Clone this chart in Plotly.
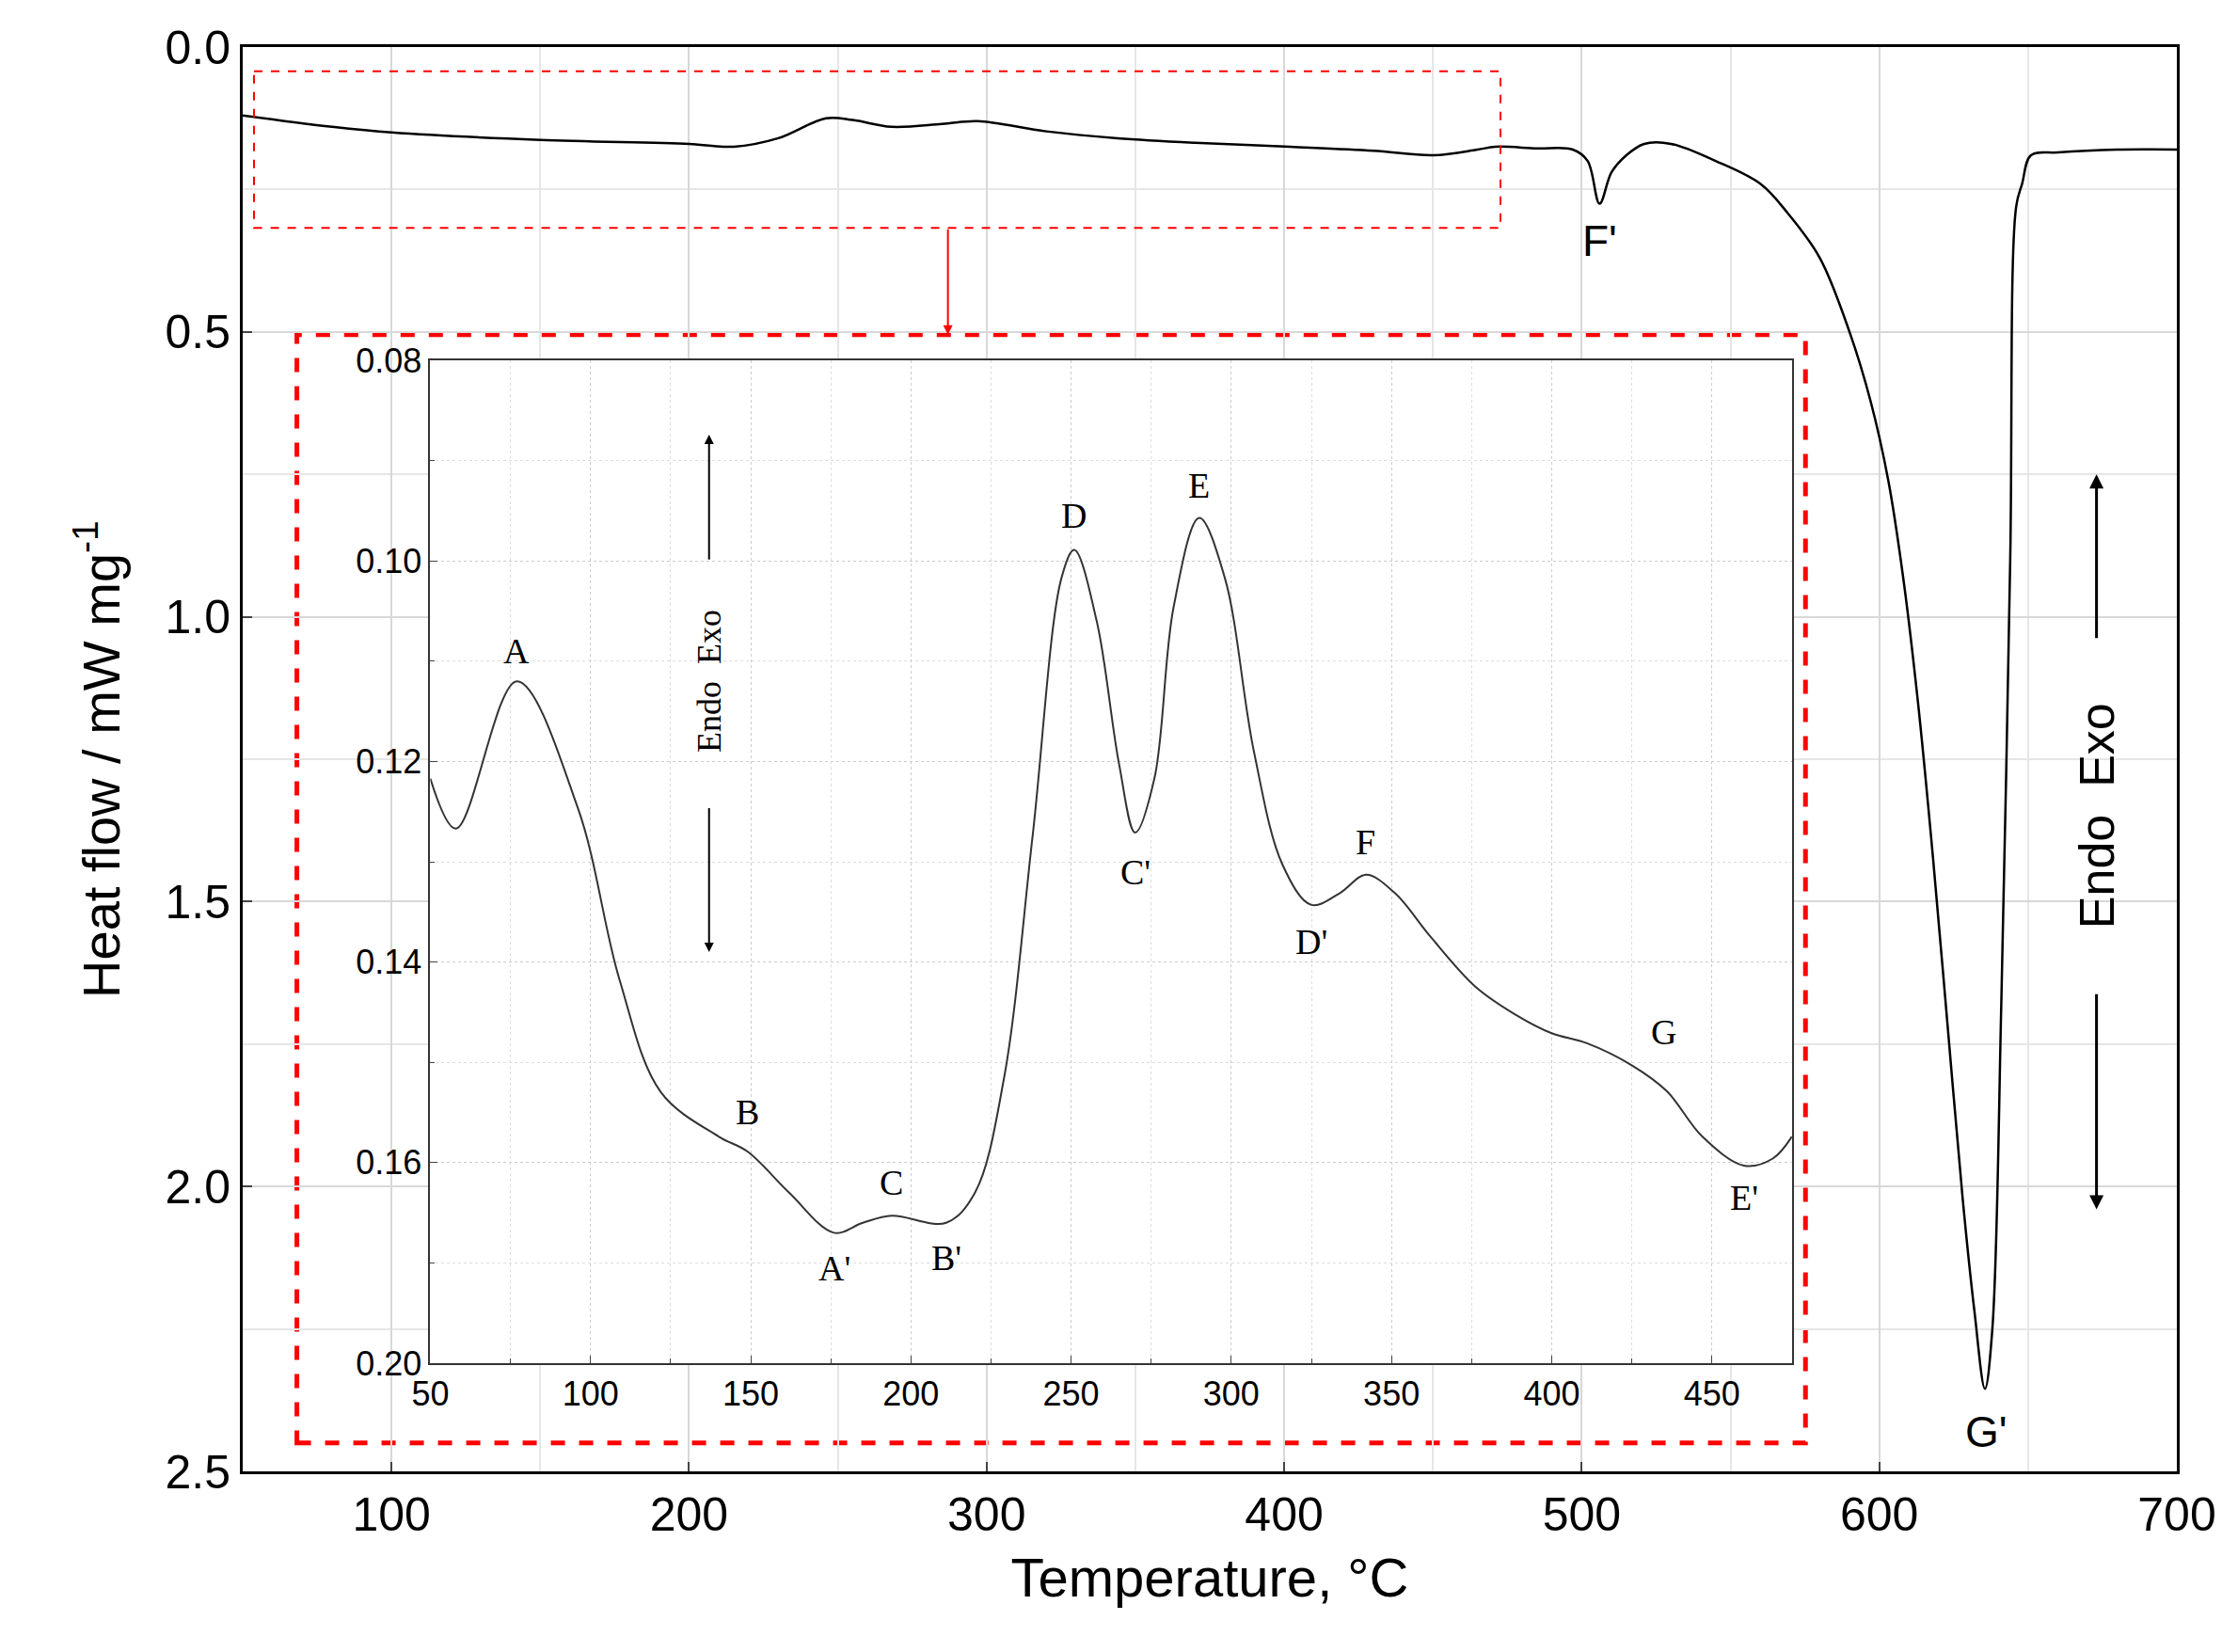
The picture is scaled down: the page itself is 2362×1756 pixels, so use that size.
import plotly.graph_objects as go

# main DSC curve
temp_main = [50, 80, 100, 150, 200, 215, 230, 246, 255, 268, 285, 297, 320, 344, 370, 402, 430, 450, 465, 471, 485,
             497, 502, 506, 510, 515, 521, 530, 545, 560, 569, 580, 590, 597, 603, 608, 613, 618, 623, 628, 632,
             635.5, 638, 641, 644, 646, 648, 651, 660, 680, 700]
flow_main = [0.12, 0.14, 0.15, 0.163, 0.17, 0.175, 0.16, 0.125, 0.128, 0.14, 0.135, 0.13, 0.148, 0.16, 0.168, 0.175,
             0.182, 0.19, 0.18, 0.175, 0.178, 0.18, 0.2, 0.275, 0.22, 0.19, 0.17, 0.17, 0.2, 0.24, 0.29, 0.37, 0.5,
             0.62, 0.76, 0.93, 1.15, 1.42, 1.72, 2.02, 2.22, 2.355, 2.25, 1.68, 0.9, 0.28, 0.24, 0.19, 0.185, 0.18,
             0.18]

# inset curve
temp_in = [50, 58, 77, 96, 109, 122, 140, 149, 162, 176, 185, 194, 211, 220, 229, 238, 247, 251, 258, 265, 270, 276,
           282, 290, 298, 307, 316, 325, 334, 342, 351, 362, 376, 389, 400, 411, 425, 436, 447, 460, 469, 475]
flow_in = [0.1217, 0.1267, 0.112, 0.1246, 0.1417, 0.153, 0.1574, 0.1589, 0.163, 0.167, 0.166, 0.1653, 0.166, 0.163,
           0.1517, 0.1274, 0.1017, 0.0989, 0.106, 0.1203, 0.1271, 0.1217, 0.1046, 0.0957, 0.1017, 0.1189, 0.1303,
           0.1343, 0.1331, 0.1313, 0.1331, 0.1374, 0.1424, 0.1453, 0.1471, 0.1481, 0.1503, 0.1529, 0.1574, 0.1603,
           0.1596, 0.1574]

inset_labels = ["A", "B", "C", "D", "E", "F", "G", "A'", "B'", "C'", "D'", "E'"]
inset_lx = [77, 149, 194, 251, 290, 342, 435, 176, 211, 270, 325, 460]
inset_ly = [0.109, 0.155, 0.162, 0.0955, 0.0925, 0.128, 0.147, 0.1705, 0.1695, 0.131, 0.138, 0.1635]

fig = go.Figure()
fig.add_trace(go.Scatter(x=temp_main, y=flow_main, mode="lines", line=dict(color="black", width=2.5, shape="spline"),
                         showlegend=False))
fig.add_trace(go.Scatter(x=temp_in, y=flow_in, mode="lines", line=dict(color="#333", width=2, shape="spline"),
                         xaxis="x2", yaxis="y2", showlegend=False))

ax_main = dict(showline=True, linecolor="black", linewidth=3, mirror=True, ticks="inside", ticklen=10,
               tickwidth=2, showgrid=True, gridcolor="#d8d8d8", gridwidth=1.5, zeroline=False,
               tickfont=dict(family="Liberation Sans", size=50, color="black"))
fig.update_layout(
    width=2362, height=1756, plot_bgcolor="white", paper_bgcolor="white",
    margin=dict(l=250, r=56, t=42, b=200),
    xaxis=dict(ax_main, range=[50, 700], dtick=100, minor=dict(dtick=50, showgrid=True, gridcolor="#e6e6e6"),
               title=dict(text="Temperature, °C", standoff=20,
                          font=dict(family="Liberation Sans", size=58, color="black"))),
    yaxis=dict(ax_main, range=[2.5, 0], dtick=0.5, tickformat=".1f",
               minor=dict(dtick=0.25, showgrid=True, gridcolor="#e6e6e6"),
               title=dict(text="Heat flow / mW mg<sup>-1</sup>", standoff=30,
                          font=dict(family="Liberation Sans", size=56, color="black"))),
    xaxis2=dict(domain=[0.097, 0.801], anchor="y2", range=[50, 475], dtick=50, showline=True, linecolor="#333",
                linewidth=2, mirror=True, ticks="inside", ticklen=8, showgrid=True, gridcolor="#cccccc",
                griddash="dot", zeroline=False, minor=dict(dtick=25, ticks="inside", ticklen=5, showgrid=True,
                gridcolor="#dddddd", griddash="dot"),
                tickfont=dict(family="Liberation Sans", size=36, color="black")),
    yaxis2=dict(domain=[0.076, 0.78], anchor="x2", range=[0.18, 0.08], showline=True, linecolor="#333",
                linewidth=2, mirror=True, ticks="inside", ticklen=8,
                tickvals=[0.08, 0.10, 0.12, 0.14, 0.16, 0.18], ticktext=["0.08", "0.10", "0.12", "0.14", "0.16", "0.20"],
                showgrid=True, gridcolor="#cccccc", griddash="dot", zeroline=False,
                minor=dict(dtick=0.01, ticks="inside", ticklen=5, showgrid=True, gridcolor="#dddddd", griddash="dot"),
                tickfont=dict(family="Liberation Sans", size=36, color="black")),
)

# inset box (white background, red dashed border) and upper selection box
fig.add_shape(type="rect", xref="paper", yref="paper", x0=0.028, x1=0.808, y0=0.02, y1=0.798,
              fillcolor="white", line=dict(color="red", width=5, dash="dash"), layer="below")
fig.add_shape(type="rect", x0=53.8, x1=472.7, y0=0.0425, y1=0.3175, line=dict(color="red", width=2, dash="dash"))
fig.add_annotation(x=287, y=0.505, ax=287, ay=0.3175, axref="x", ayref="y", text="", showarrow=True,
                   arrowhead=2, arrowcolor="red", arrowwidth=2)

txt = dict(family="Liberation Sans", size=46, color="black")
fig.add_annotation(x=506, y=0.34, text="F'", showarrow=False, font=txt)
fig.add_annotation(x=636, y=2.43, text="G'", showarrow=False, font=txt)
# Endo / Exo main
fig.add_annotation(x=673, y=0.75, ax=673, ay=1.04, axref="x", ayref="y", text="", arrowhead=2, arrowwidth=3, arrowcolor="black")
fig.add_annotation(x=673, y=2.04, ax=673, ay=1.66, axref="x", ayref="y", text="", arrowhead=2, arrowwidth=3, arrowcolor="black")
fig.add_annotation(x=673, y=1.35, text="Endo  Exo", textangle=-90, showarrow=False,
                   font=dict(family="Liberation Sans", size=52, color="black"))

# inset labels
ser = dict(family="Liberation Serif", size=38, color="black")
for lab, lx, ly in zip(inset_labels, inset_lx, inset_ly):
    fig.add_annotation(x=lx, y=ly, xref="x2", yref="y2", text=lab, showarrow=False, font=ser)
fig.add_annotation(x=137, y=0.0874, ax=137, ay=0.1, xref="x2", yref="y2", axref="x2", ayref="y2", text="",
                   arrowhead=2, arrowwidth=2, arrowcolor="black")
fig.add_annotation(x=137, y=0.139, ax=137, ay=0.1245, xref="x2", yref="y2", axref="x2", ayref="y2", text="",
                   arrowhead=2, arrowwidth=2, arrowcolor="black")
fig.add_annotation(x=137, y=0.112, xref="x2", yref="y2", text="Endo  Exo", textangle=-90, showarrow=False,
                   font=dict(family="Liberation Serif", size=36, color="black"))

fig.write_html("out.html")
